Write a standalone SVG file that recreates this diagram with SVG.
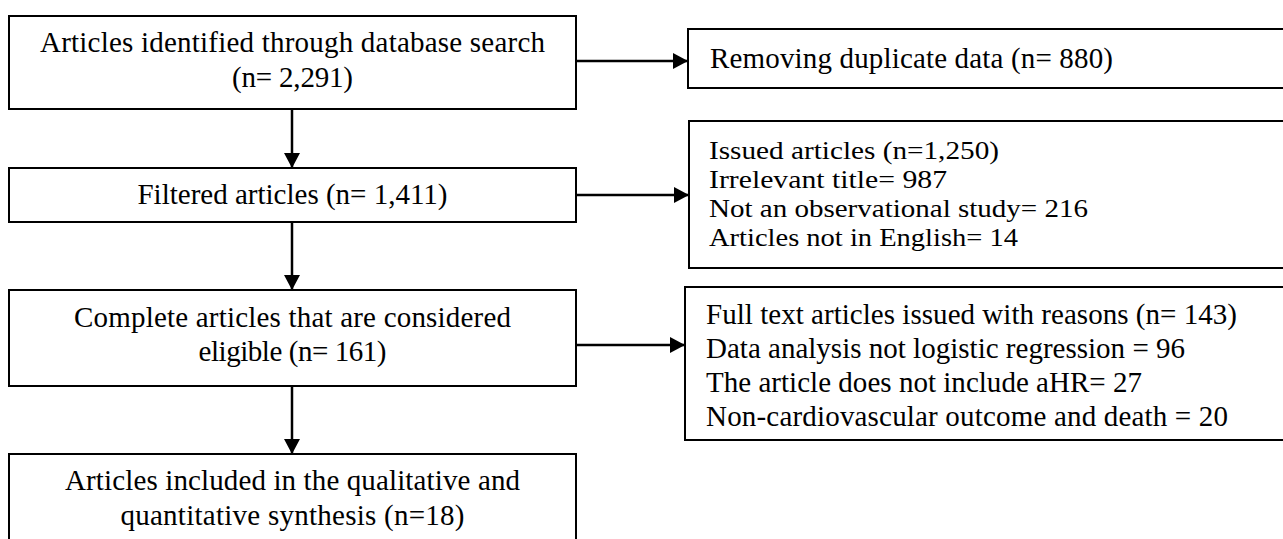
<svg xmlns="http://www.w3.org/2000/svg" width="1283" height="539" viewBox="0 0 1283 539">
<style>
.box{fill:#fff;stroke:#000;stroke-width:2}
.t{font-family:"Liberation Serif","DejaVu Serif",serif;font-size:29px;fill:#000}
.s{font-size:26px}
.c{text-anchor:middle}
.ln{stroke:#000;stroke-width:2.5;fill:none}
</style>
<defs>
<marker id="ah" markerWidth="15" markerHeight="16" refX="15" refY="8" orient="auto" markerUnits="userSpaceOnUse">
<path d="M0,0 L15,8 L0,16 Z" fill="#000"/>
</marker>
</defs>
<rect width="1283" height="539" fill="#fff"/>
<g id="connectors">
<line class="ln" x1="292" y1="109" x2="292" y2="168" marker-end="url(#ah)"/>
<line class="ln" x1="292" y1="222" x2="292" y2="290" marker-end="url(#ah)"/>
<line class="ln" x1="292" y1="386" x2="292" y2="454" marker-end="url(#ah)"/>
<line class="ln" x1="576" y1="61" x2="688" y2="61" marker-end="url(#ah)"/>
<line class="ln" x1="576" y1="195" x2="689" y2="195" marker-end="url(#ah)"/>
<line class="ln" x1="576" y1="345" x2="685" y2="345" marker-end="url(#ah)"/>
</g>
<g id="n1">
<rect class="box" x="9" y="16" width="567" height="93"/>
<text class="t c" x="292.5" y="52" textLength="505">Articles identified through database search</text>
<text class="t c" x="292.5" y="87" textLength="121">(n= 2,291)</text>
</g>
<g id="n2">
<rect class="box" x="9" y="168" width="567" height="54"/>
<text class="t c" x="292.5" y="204">Filtered articles (n= 1,411)</text>
</g>
<g id="n3">
<rect class="box" x="9" y="290" width="567" height="96"/>
<text class="t c" x="292.5" y="327" textLength="437">Complete articles that are considered</text>
<text class="t c" x="292.5" y="361" textLength="188">eligible (n= 161)</text>
</g>
<g id="n4">
<rect class="box" x="9" y="454" width="567" height="100"/>
<text class="t c" x="292.5" y="490" textLength="455">Articles included in the qualitative and</text>
<text class="t c" x="292.5" y="525" textLength="344">quantitative synthesis (n=18)</text>
</g>
<g id="r1">
<rect class="box" x="688" y="29" width="610" height="59"/>
<text class="t" x="710" y="68" textLength="403">Removing duplicate data (n= 880)</text>
</g>
<g id="r2">
<rect class="box" x="689" y="121" width="610" height="147"/>
<text class="t s" x="709" y="158.5" textLength="290" lengthAdjust="spacingAndGlyphs">Issued articles (n=1,250)</text>
<text class="t s" x="709" y="187.5" textLength="238" lengthAdjust="spacingAndGlyphs">Irrelevant title= 987</text>
<text class="t s" x="709" y="216.5" textLength="379" lengthAdjust="spacingAndGlyphs">Not an observational study= 216</text>
<text class="t s" x="709" y="245.5" textLength="309" lengthAdjust="spacingAndGlyphs">Articles not in English= 14</text>
</g>
<g id="r3">
<rect class="box" x="685" y="287" width="610" height="153"/>
<text class="t" x="706" y="324" textLength="531">Full text articles issued with reasons (n= 143)</text>
<text class="t" x="706" y="358" textLength="479">Data analysis not logistic regression = 96</text>
<text class="t" x="706" y="392" textLength="436">The article does not include aHR= 27</text>
<text class="t" x="706" y="426" textLength="522">Non-cardiovascular outcome and death = 20</text>
</g>
</svg>
